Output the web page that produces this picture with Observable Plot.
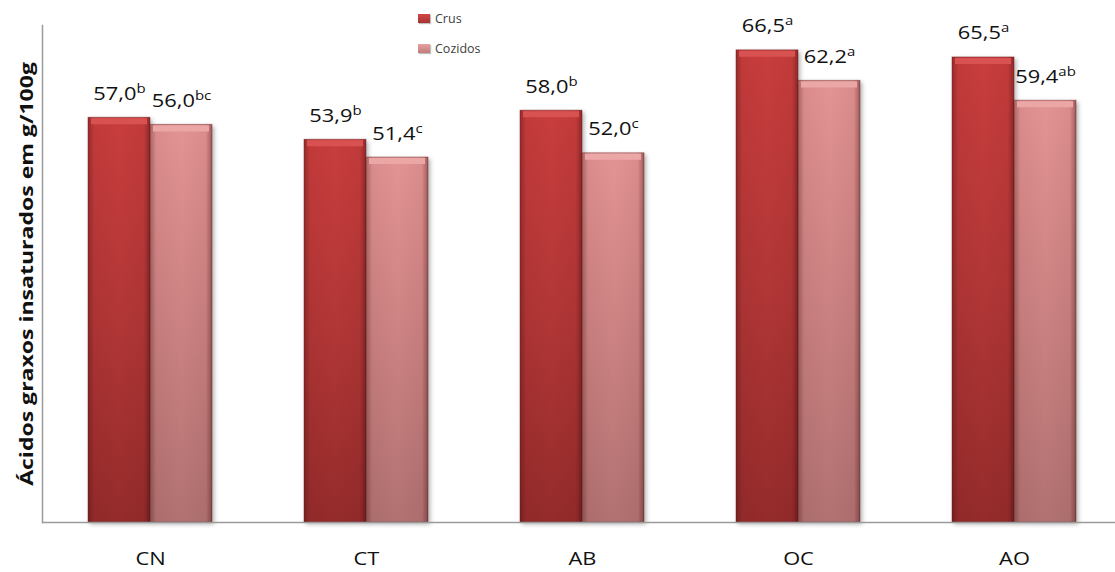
<!DOCTYPE html>
<html>
<head>
<meta charset="utf-8">
<script src="https://cdn.jsdelivr.net/npm/d3@7"></script>
<script src="https://cdn.jsdelivr.net/npm/@observablehq/plot@0.6"></script>
<style>
  body { margin: 0; background: #fff; }
  #grafico { position: relative; width: 1115px; height: 572px; font-family: 'Open Sans', sans-serif; }
  #legenda { position: absolute; left: 418px; top: 10px; font-size: 12.5px; color: #404040; }
  #legenda .item { display: flex; align-items: center; height: 16px; margin-bottom: 14px; }
  #legenda .sw { width: 12px; height: 9px; margin-right: 5px; box-shadow: 1px 1px 1px rgba(0,0,0,0.25); }
</style>
</head>
<body>
<div id="grafico"></div>
<script>
// Ácidos graxos insaturados (g/100g) por tratamento, amostras cruas e cozidas
const categorias = ["CN", "CT", "AB", "OC", "AO"];
const series = ["Crus", "Cozidos"];
const crus = [57.0, 53.9, 58.0, 66.5, 65.5];
const cozidos = [56.0, 51.4, 52.0, 62.2, 59.4];
const letrasCrus = ["b", "b", "b", "a", "a"];
const letrasCozidos = ["bc", "c", "c", "a", "ab"];
const tituloY = "Ácidos graxos insaturados em g/100g";

const linhasCrus = categorias.map((c, i) => ({categoria: c, valor: crus[i], letra: letrasCrus[i]}));
const linhasCozidos = categorias.map((c, i) => ({categoria: c, valor: cozidos[i], letra: letrasCozidos[i]}));

const fmt = v => v.toFixed(1).replace(".", ",");
const rotulo = d => fmt(d.valor) + "|" + d.letra;

// gradientes das barras
const gradientes = () => {
  const defs = d3.create("svg:defs");
  const vert = (id, stops) => {
    const g = defs.append("linearGradient").attr("id", id)
      .attr("x1", 0).attr("y1", 0).attr("x2", 0).attr("y2", 1);
    stops.forEach(([o, c]) => g.append("stop").attr("offset", o).attr("stop-color", c));
  };
  vert("gCrus", [[0, "#c93d3d"], [0.5, "#b23636"], [1, "#952b2b"]]);
  vert("gCozidos", [[0, "#e39393"], [0.5, "#cc8282"], [1, "#b27272"]]);
  const lado = defs.append("linearGradient").attr("id", "gLado")
    .attr("x1", 0).attr("y1", 0).attr("x2", 1).attr("y2", 0);
  [[0, 0.35], [0.1, 0.05], [0.5, 0], [0.9, 0.05], [1, 0.4]].forEach(([o, a]) =>
    lado.append("stop").attr("offset", o).attr("stop-color", "#3a0a0a").attr("stop-opacity", a));
  return defs.node();
};

const estiloBarra = (fill, esquerda) => ({
  x: "categoria", y: "valor", fill,
  insetLeft: esquerda ? 46 : 108, insetRight: esquerda ? 108 : 46,
  stroke: "#6e1f1f", strokeOpacity: 0.45, strokeWidth: 1
});

const plot = Plot.plot({
  width: 1115, height: 572,
  marginTop: 25, marginBottom: 50, marginLeft: 42, marginRight: 0,
  style: {fontFamily: "'Open Sans', sans-serif", background: "transparent", overflow: "visible"},
  x: {domain: categorias, range: [42, 1122], padding: 0, label: null},
  y: {domain: [0, 70], axis: null},
  marks: [
    gradientes,
    Plot.barY(linhasCrus, estiloBarra("url(#gCrus)", true)),
    Plot.barY(linhasCozidos, estiloBarra("url(#gCozidos)", false)),
    Plot.barY(linhasCrus, {x: "categoria", y: "valor", fill: "url(#gLado)", insetLeft: 46, insetRight: 108}),
    Plot.barY(linhasCozidos, {x: "categoria", y: "valor", fill: "url(#gLado)", insetLeft: 108, insetRight: 46}),
    // chanfro superior das barras
    Plot.tickY(linhasCrus, {x: "categoria", y: "valor", stroke: "#d95252", strokeWidth: 6, dy: 3.5, insetLeft: 49, insetRight: 111}),
    Plot.tickY(linhasCozidos, {x: "categoria", y: "valor", stroke: "#eba6a6", strokeWidth: 6, dy: 3.5, insetLeft: 111, insetRight: 49}),
    Plot.ruleY([0], {stroke: "#9a9a9a", strokeWidth: 1.5}),
    Plot.frame({anchor: "left", stroke: "#9a9a9a", strokeWidth: 1.5}),
    Plot.axisX({tickSize: 0, tickPadding: 29, fontSize: 19, fill: "#111", label: null}),
    Plot.text(linhasCrus, {x: "categoria", y: "valor", text: rotulo, dx: -31, dy: -18, lineAnchor: "bottom", fontSize: 19, fill: "#111"}),
    Plot.text(linhasCozidos, {x: "categoria", y: "valor", text: rotulo, dx: 31, dy: -18, lineAnchor: "bottom", fontSize: 19, fill: "#111"}),
    Plot.text([tituloY], {frameAnchor: "left", textAnchor: "middle", lineAnchor: "middle", rotate: -90, dx: -15, fontSize: 18, fontWeight: "bold", fill: "#111"})
  ]
});

// sobrescritos das letras de significância e largura do texto
plot.querySelectorAll("text").forEach(t => {
  const s = t.textContent;
  if (s.includes("|")) {
    const [v, l] = s.split("|");
    t.textContent = v;
    const sup = document.createElementNS("http://www.w3.org/2000/svg", "tspan");
    sup.setAttribute("font-size", "13");
    sup.setAttribute("dy", "-7");
    sup.textContent = l;
    t.appendChild(sup);
  }
  const tr = t.getAttribute("transform");
  if (tr) t.setAttribute("transform", tr + (tr.includes("rotate") ? " scale(1.28,1)" : " scale(1.15,1)"));
});

// sombra das barras
const grupos = plot.querySelectorAll('g[aria-label="bar"]');
[grupos[0], grupos[1]].forEach(g => g && (g.style.filter = "drop-shadow(2px 2px 2px rgba(0,0,0,0.3))"));

const cont = document.getElementById("grafico");
cont.appendChild(plot);

// legenda
const cores = {Crus: "linear-gradient(#d24848, #a83232)", Cozidos: "linear-gradient(#e8a0a0, #c27c7c)"};
const leg = d3.select(cont).append("div").attr("id", "legenda");
series.forEach(s => {
  const it = leg.append("div").attr("class", "item");
  it.append("div").attr("class", "sw").style("background", cores[s]);
  it.append("span").text(s);
});
</script>
</body>
</html>
